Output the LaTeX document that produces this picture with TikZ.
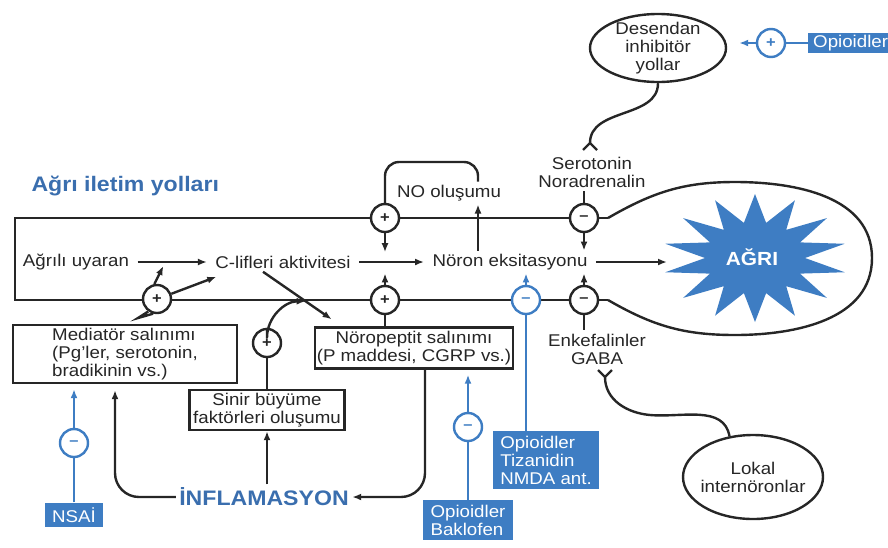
\documentclass[tikz,border=0pt]{standalone}
\usepackage{fontspec}
\setmainfont{Liberation Sans}[FakeStretch=1.1]
\usetikzlibrary{arrows.meta,calc,positioning,shapes.geometric}
\definecolor{ink}{HTML}{262626}
\definecolor{drug}{HTML}{3E7DC3}
\definecolor{heading}{HTML}{3A6EAE}

\begin{document}
\begin{tikzpicture}[x=1pt,y=1pt,>={Latex[length=9pt,width=7pt]},
  every node/.style={font=\fontsize{17}{18}\selectfont,text=ink},
  line/.style={draw=ink,line width=2.4pt},
  arr/.style={line,->},
  flow/.style={arr,shorten <=5pt,shorten >=5pt},
  bline/.style={draw=drug,line width=2.4pt},
  barr/.style={bline,->},
  sign/.style={circle,draw=ink,fill=white,line width=2.4pt,minimum size=28pt,inner sep=0pt,font=\fontsize{15}{15}\selectfont\bfseries},
  bsign/.style={sign,draw=drug,text=drug},
  box/.style={draw=ink,fill=white,line width=2.4pt,align=center,inner sep=2pt},
  drugbox/.style={fill=drug,text=white,align=left,inner sep=5pt},
  blob/.style={ellipse,draw=ink,line width=2.4pt,inner sep=0pt}]
  \useasboundingbox (0,0) rectangle (888,-547);

  \node[font=\fontsize{21}{23}\selectfont\bfseries,text=heading,anchor=west] (ttl) at (28,-186) {Ağrı iletim yolları};

  \draw[line] (608,-218) -- (15,-218) -- (15,-300) -- (608,-300);
  \draw[line] (608,-218) to[out=30,in=180] (735,-182) to[out=0,in=90] (872,-258) to[out=-90,in=0] (735,-335) to[out=180,in=-30] (608,-300);
  \fill[drug] plot[domain=0:27,samples=28,variable=\k] ({755+(mod(round(\k),2)==0 ? 92 : 50)*cos(90+12.857*\k)},{-258+(mod(round(\k),2)==0 ? 64 : 36)*sin(90+12.857*\k)}) -- cycle;
  \node[font=\fontsize{19}{19}\selectfont\bfseries,text=white] (agri) at (752,-257) {AĞRI};
  \coordinate (starL) at (667,-262);

  \node (uyaran) at (76,-262) {Ağrılı uyaran};
  \node (clif) at (283,-262) {C-lifleri aktivitesi};
  \node (noron) at (510,-262) {Nöron eksitasyonu};
  \node (no) at (449,-193) {NO oluşumu};
  \coordinate (nocol) at (478,-230);
  \draw[flow] (uyaran) -- (clif);
  \draw[flow] (clif) -- (noron);
  \draw[arr,shorten <=5pt] (noron.east) -- (starL);

  \node[sign] (pT) at (385,-218) {+};
  \node[sign] (mT) at (584,-218) {–};
  \node[sign] (pB0) at (157,-299) {+};
  \node[sign] (pB1) at (385,-300) {+};
  \node[bsign] (mB0) at (526,-300) {–};
  \node[sign] (mB1) at (584,-300) {–};

  \draw[arr] (pT.south) -- (pT.south |- clif.north);
  \draw[arr] (mT.south) -- (mT.south |- noron.north);
  \draw[arr] (pB1.north) -- (pB1.north |- noron.south);
  \draw[arr] (mB1.north) -- (mB1.north |- noron.south);
  \draw[barr] (mB0.north) -- (mB0.north |- noron.south);
  \draw[arr] (nocol |- noron.north) -- (nocol |- no.south);
  \draw[line,rounded corners=14pt] (pT.north) -- (385,-162) -- (478,-162) -- (nocol |- no.north);

  \node[align=center] (sero) at (592,-172) {Serotonin\\Noradrenalin};
  \draw[line] (mT.north) -- (mT.north |- sero.south);
  \node[blob,minimum width=136pt,minimum height=68pt] (desc) at (658,-48) {};
  \node[align=center] (descT) at (desc) {Desendan\\inhibitör\\yollar};
  \draw[line] (desc.south) to[out=-90,in=90] (590,-143);
  \draw[line] (583,-150) -- (590,-143) -- (597,-150);

  \node[drugbox,inner ysep=2pt,anchor=west] (opi) at (808,-43) {Opioidler};
  \node[bsign] (pOp) at (771,-43) {+};
  \draw[bline] (opi) -- (pOp);
  \draw[barr,shorten >=12pt] (pOp.west) -- (pOp -| desc.east);

  \node[box,align=left,minimum width=224pt,minimum height=58pt] (med) at (125,-354) {Mediatör salınımı\\(Pg’ler, serotonin,\\bradikinin vs.)};
  \node[box,minimum width=198pt,minimum height=41pt] (neuro) at (414,-348) {Nöropeptit salınımı\\(P maddesi, CGRP vs.)};
  \node[box,minimum width=155pt,minimum height=40pt] (sinir) at (267,-410) {Sinir büyüme\\faktörleri oluşumu};
  \node[sign] (pS) at (267,-343) {+};

  \draw[line] (pB0.235) -- (138,-318) -- (pB0.255);
  \draw[arr] (pB0.100) -- ++(9,18);
  \draw[arr] (pB0.20) -- ++(45,17);
  \coordinate (dA) at ([xshift=-20pt]clif.south);
  \coordinate (dB) at ([xshift=18pt,yshift=7pt]neuro.north west);
  \draw[arr] (dA) -- (dB);
  \draw[line] (sinir) -- (pS);
  \draw[arr] (pS.north) -- ++(0,-10) to[out=90,in=180] ($(dA)!0.62!(dB)$);
  \draw[line] (neuro.north -| pB1) -- (pB1);

  \node[font=\fontsize{21}{21}\selectfont\bfseries,text=heading] (infl) at (264,-497) {İNFLAMASYON};
  \draw[arr] (infl.north -| sinir) -- (sinir.south);
  \draw[arr,rounded corners=24pt,shorten >=6pt] (infl.west) -| ([xshift=-10pt]med.south);
  \draw[arr,rounded corners=24pt] ([xshift=11pt]neuro.south) |- (infl.east);

  \node[drugbox,minimum width=58pt] (nsai) at (74,-515) {NSAİ};
  \node[bsign] (mNs) at (74,-443) {–};
  \draw[bline] (nsai) -- (mNs);
  \draw[barr,shorten >=5pt] (mNs) -- (mNs |- med.south);

  \node[drugbox,minimum width=90pt] (bak) at (468,-520) {Opioidler\\Baklofen};
  \node[bsign] (mBk) at (468,-427) {–};
  \draw[bline] (bak) -- (mBk);
  \draw[barr,shorten >=5pt] (mBk) -- (mBk |- neuro.south);

  \node[drugbox,minimum width=106pt] (tiz) at (546,-460) {Opioidler\\Tizanidin\\NMDA ant.};
  \draw[bline] (tiz.north -| mB0) -- (mB0);

  \node[align=center] (enk) at (597,-349) {Enkefalinler\\GABA};
  \draw[line] (mB1.south) -- (mB1.south |- enk.north);
  \node[blob,minimum width=140pt,minimum height=84pt] (lok) at (753,-477) {};
  \node[align=center] (lokT) at (lok) {Lokal\\internöronlar};
  \draw[line] (598,-370) -- (605,-377) -- (612,-370);
  \draw[line] (605,-377) to[out=-90,in=175] (650,-415) to[out=-5,in=100] (lok.120);
\end{tikzpicture}
\end{document}
